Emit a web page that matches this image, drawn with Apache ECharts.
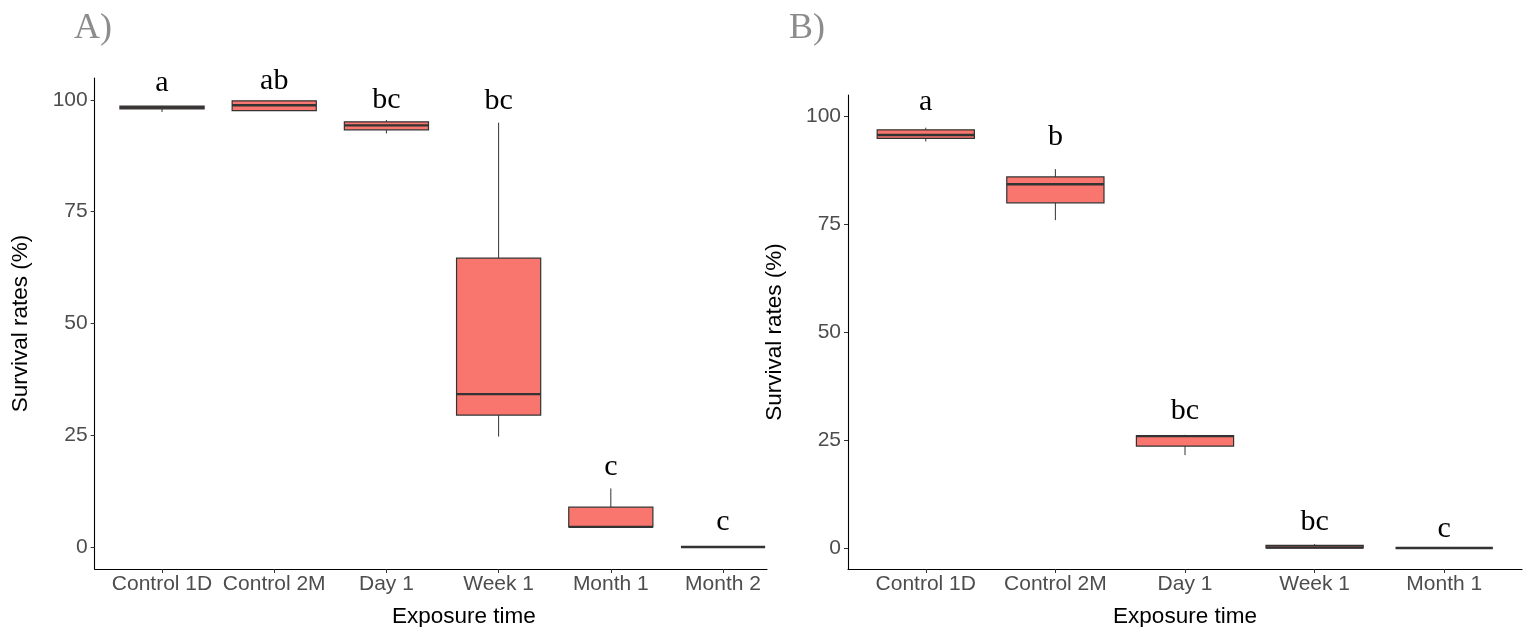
<!DOCTYPE html>
<html>
<head>
<meta charset="utf-8">
<script src="https://cdn.jsdelivr.net/npm/echarts@6/dist/echarts.min.js"></script>
<style>
html,body{margin:0;padding:0;background:#fff;}
#chart{width:1524px;height:627px;}
</style>
</head>
<body>
<div id="chart"></div>
<script>
// ---- Panel A data ----
const catsA = ['Control 1D', 'Control 2M', 'Day 1', 'Week 1', 'Month 1', 'Month 2'];
// [min, q1, median, q3, max]
const minA    = [97.3, 97.6, 92.5, 24.7, 4.5, 0];
const q1A     = [98.0, 97.6, 93.3, 29.5, 4.5, 0];
const medA    = [98.3, 98.8, 94.3, 34.2, 4.5, 0];
const q3A     = [98.6, 99.8, 95.1, 64.6, 8.9, 0];
const maxA    = [98.7, 99.8, 95.5, 94.9, 13.1, 0];
const lettersA = ['a', 'ab', 'bc', 'bc', 'c', 'c'];
const letterYA = [103.7, 104.1, 100.0, 99.8, 17.9, 5.6];

// ---- Panel B data ----
const catsB = ['Control 1D', 'Control 2M', 'Day 1', 'Week 1', 'Month 1'];
const minB    = [94.1, 75.9, 21.5, 0, 0];
const q1B     = [94.8, 79.9, 23.6, 0, 0];
const medB    = [95.6, 84.2, 25.9, 0.1, 0];
const q3B     = [96.8, 85.9, 26.0, 0.6, 0];
const maxB    = [97.3, 87.7, 26.2, 0.9, 0];
const lettersB = ['a', 'b', 'bc', 'bc', 'c'];
const letterYB = [103.2, 95.2, 31.6, 6.1, 4.4];

const yTicks = [0, 25, 50, 75, 100];

function boxData(mins, q1s, meds, q3s, maxs) {
  return mins.map((m, i) => [i, m, q1s[i], meds[i], q3s[i], maxs[i]]);
}
function letterData(ys) { return ys.map((y, i) => [i, y]); }

const FILL = '#F8766D', EDGE = '#333333';

function renderBox(params, api) {
  const x = api.value(0);
  const lo = api.coord([x, api.value(1)]);
  const q1 = api.coord([x, api.value(2)]);
  const md = api.coord([x, api.value(3)]);
  const q3 = api.coord([x, api.value(4)]);
  const hi = api.coord([x, api.value(5)]);
  const bw = api.size([1, 0])[0] * 0.75;
  const cx = q1[0];
  return {
    type: 'group',
    children: [
      { type: 'line', shape: { x1: cx, y1: hi[1], x2: cx, y2: q3[1] }, style: { stroke: EDGE, lineWidth: 1 } },
      { type: 'line', shape: { x1: cx, y1: q1[1], x2: cx, y2: lo[1] }, style: { stroke: EDGE, lineWidth: 1 } },
      { type: 'rect', shape: { x: cx - bw / 2, y: q3[1], width: bw, height: q1[1] - q3[1] }, style: { fill: FILL, stroke: EDGE, lineWidth: 1.2 } },
      { type: 'line', shape: { x1: cx - bw / 2, y1: md[1], x2: cx + bw / 2, y2: md[1] }, style: { stroke: EDGE, lineWidth: 2.4 } }
    ]
  };
}

function makeLetterRenderer(letters) {
  return function (params, api) {
    const p = api.coord([api.value(0), api.value(1)]);
    return {
      type: 'text',
      x: p[0], y: p[1],
      style: {
        text: letters[params.dataIndex],
        fontFamily: 'Liberation Serif',
        fontSize: 30,
        fill: '#000',
        align: 'center',
        verticalAlign: 'middle'
      }
    };
  };
}

const tickLabelStyle = { fontFamily: 'Liberation Sans', fontSize: 21, color: '#4D4D4D' };
const titleStyle = { fontFamily: 'Liberation Sans', fontSize: 22.5, color: '#000' };

function xAxisFor(gridIndex, cats, maxV, padLeft) {
  return {
    type: 'value', gridIndex: gridIndex,
    min: -0.6, max: maxV,
    name: 'Exposure time', nameLocation: 'middle', nameGap: 36,
    nameTextStyle: Object.assign({ padding: [0, 0, 0, padLeft] }, titleStyle),
    axisLine: { show: true, onZero: false, lineStyle: { color: '#000', width: 1.1 } },
    axisTick: { show: true, length: 4, lineStyle: { color: '#333' }, customValues: cats.map((c, i) => i) },
    axisLabel: Object.assign({ margin: 5, customValues: cats.map((c, i) => i), formatter: v => cats[Math.round(v)] ?? '', showMinLabel: true, showMaxLabel: true, hideOverlap: false }, tickLabelStyle),
    splitLine: { show: false }
  };
}
function yAxisFor(gridIndex, minV, maxV, gap) {
  return {
    type: 'value', gridIndex: gridIndex,
    min: minV, max: maxV,
    name: 'Survival rates (%)', nameLocation: 'middle', nameGap: gap, nameRotate: 90,
    nameTextStyle: titleStyle,
    axisLine: { show: true, onZero: false, lineStyle: { color: '#000', width: 1.1 } },
    axisTick: { show: true, length: 4, lineStyle: { color: '#333' }, customValues: yTicks },
    axisLabel: Object.assign({ margin: 7, customValues: yTicks }, tickLabelStyle),
    splitLine: { show: false }
  };
}

const chart = echarts.init(document.getElementById('chart'), null, { renderer: 'canvas' });
chart.setOption({
  backgroundColor: '#fff',
  animation: false,
  title: [
    { text: 'A)', left: 69, top: 6, textStyle: { fontFamily: 'Liberation Serif', fontSize: 36, fontWeight: 'normal', color: '#8C8C8C' } },
    { text: 'B)', left: 784, top: 6, textStyle: { fontFamily: 'Liberation Serif', fontSize: 36, fontWeight: 'normal', color: '#8C8C8C' } }
  ],
  grid: [
    { left: 94.7, top: 78, width: 672.3, height: 491, containLabel: false, outerBoundsMode: 'none' },
    { left: 848, top: 95, width: 674, height: 474, containLabel: false, outerBoundsMode: 'none' }
  ],
  xAxis: [
    xAxisFor(0, catsA, 5.392, 66),
    xAxisFor(1, catsB, 4.6, 0)
  ],
  yAxis: [
    yAxisFor(0, -4.92, 104.9, 62),
    yAxisFor(1, -4.86, 104.86, 62)
  ],
  series: [
    { type: 'custom', xAxisIndex: 0, yAxisIndex: 0, renderItem: renderBox, encode: { x: 0, y: [1, 2, 3, 4, 5] }, data: boxData(minA, q1A, medA, q3A, maxA), clip: false },
    { type: 'custom', xAxisIndex: 0, yAxisIndex: 0, renderItem: makeLetterRenderer(lettersA), encode: { x: 0, y: 1 }, data: letterData(letterYA), clip: false },
    { type: 'custom', xAxisIndex: 1, yAxisIndex: 1, renderItem: renderBox, encode: { x: 0, y: [1, 2, 3, 4, 5] }, data: boxData(minB, q1B, medB, q3B, maxB), clip: false },
    { type: 'custom', xAxisIndex: 1, yAxisIndex: 1, renderItem: makeLetterRenderer(lettersB), encode: { x: 0, y: 1 }, data: letterData(letterYB), clip: false }
  ]
});
</script>
</body>
</html>
